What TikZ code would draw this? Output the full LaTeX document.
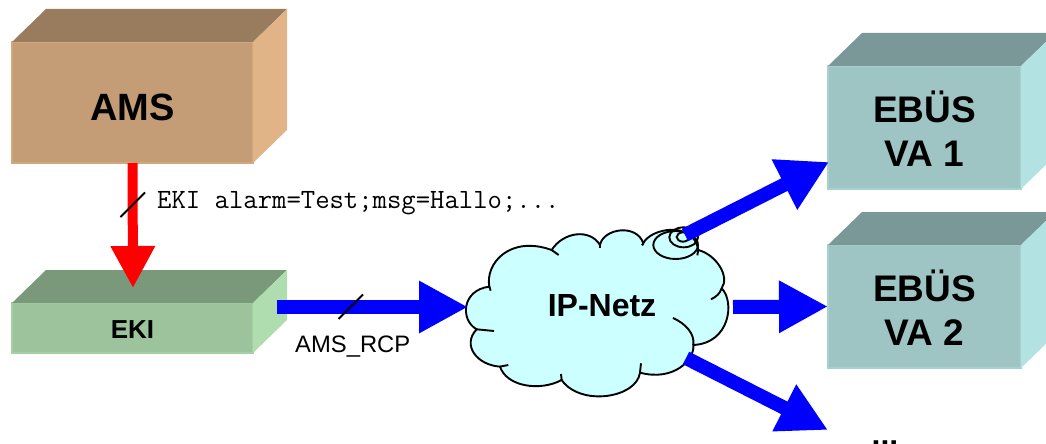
\documentclass[tikz,border=0pt]{standalone}
\usepackage{fontspec}
\setmainfont{Liberation Sans}
\usetikzlibrary{arrows.meta}
\definecolor{amsfront}{HTML}{C49C75}
\definecolor{amstop}{HTML}{997B5D}
\definecolor{amsside}{HTML}{E0B487}
\definecolor{ekifront}{HTML}{9CC39C}
\definecolor{ekitop}{HTML}{7A987A}
\definecolor{ekiside}{HTML}{B0DDB0}
\definecolor{vafront}{HTML}{9EC4C4}
\definecolor{vatop}{HTML}{7A9898}
\definecolor{vaside}{HTML}{B3E2E2}
\definecolor{netzfill}{HTML}{CCFFFF}
\tikzset{
	kiste/.style={inner sep=0pt,outer sep=0pt,line width=1.5pt},
	kistentext/.style={align=center},
	rotpfeil/.style={red,line width=10pt,-{Triangle[length=42pt,width=42pt]}},
	blaupfeil/.style={blue,line width=14pt,-{Triangle[length=49pt,width=49pt]}},
	netzlinie/.style={black,line width=1.9pt},
	strich/.style={black,line width=1.8pt},
}
\begin{document}
\begin{tikzpicture}[x=1pt,y=-1pt]
		\clip (0,0) rectangle (1046,444);
		\foreach \n/\x/\y/\w/\h/\f/\d/\s/\l in {ams/132.5/102.5/241/121/ams/4.5/38/AMS,eki/132.5/328/241/50/eki/1.5/26/EKI,vaa/924.5/127.5/193/123/va/1.5/37/EBÜS\\VA 1,vab/924.5/306.5/193/123/va/1.5/37/EBÜS\\VA 2}
		{
			\node[kiste,draw=\f side!45!\f front,fill=\f front,minimum width=\w pt,minimum height=\h pt] (\n) at (\x,\y) {};
			\fill[\f top] (\n.north west) -- ++(34,-33) -- ++(\w,0) -- (\n.north east) -- cycle;
			\fill[\f side] (\n.north east) -- ++(34,-33) -- ++(0,\h) -- (\n.south east) -- cycle;
			\node[kistentext,font=\fontsize{\s}{44}\selectfont\bfseries] (\n text) at ([yshift=-\d pt]\n.center) {\l};
		}
		% cloud, in the units of the zoomed outline
		\begin{scope}[shift={(440,190)},x=.3333pt,y=-.3333pt]
			\draw[netzlinie,fill=netzfill] (148,290) .. controls (135,220) and (210,135) .. (335,180)
			.. controls (370,125) and (450,115) .. (480,165)
			.. controls (490,115) and (590,100) .. (610,160)
			.. controls (630,115) and (760,90) .. (775,180)
			.. controls (830,195) and (870,260) .. (845,295)
			.. controls (885,335) and (870,460) .. (760,465)
			.. controls (765,510) and (700,575) .. (600,548)
			.. controls (590,625) and (420,650) .. (365,570)
			.. controls (300,605) and (200,590) .. (180,530)
			.. controls (110,525) and (65,465) .. (110,418)
			.. controls (60,390) and (65,300) .. (148,290) -- cycle;
			\foreach \ax/\ay/\bx/\by in {335/180/356/195,480/165/480/173,610/160/606/166,775/180/772/196,600/548/603/520,365/570/363/552,180/530/205/525,110/418/162/423,148/290/152/302}
			\draw[netzlinie] (\ax,\ay) -- (\bx,\by);
			\draw[netzlinie] (845,295) .. controls (840,310) and (830,320) .. (813,328);
			\draw[netzlinie] (760,465) .. controls (765,430) and (735,400) .. (699,384);
			\draw[netzlinie] (707,165) ellipse (67 and 42);
			\draw[netzlinie] (731,142) ellipse (43 and 30);
			\draw[netzlinie] (729,141) ellipse (19 and 14);
		\end{scope}
		\node[font=\fontsize{32}{38}\selectfont\bfseries] (netz) at (602,306) {IP-Netz};
		\coordinate (ekiziel) at (133,288);
		\coordinate (ekiaus) at (277,307);
		\coordinate (netzein) at (468,307);
		\coordinate (netzauso) at (685,235);
		\coordinate (netzausm) at (733,307);
		\coordinate (netzausu) at (686,358);
		\coordinate (vaaziel) at (829,162);
		\coordinate (weiter) at (828,430);
		\draw[rotpfeil] (ams.south) -- (ekiziel);
		\draw[blaupfeil] (ekiaus) -- (netzein);
		\draw[blaupfeil] (netzausm) -- (vab.west);
		\draw[blaupfeil,-{Triangle[length=50pt,width=53pt]}] (netzauso) -- (vaaziel);
		\draw[blaupfeil] (netzausu) -- (weiter);
		\draw[strich] (120.5,217) -- ++(24.5,-24.5);
		\draw[strich] (338.5,319) -- ++(24.5,-24.5);
		\node[anchor=base west,inner sep=0pt,font=\fontsize{27.9}{30}\selectfont\ttfamily] (befehl) at (157,208) {EKI alarm=Test;msg=Hallo;...};
		\node[anchor=base west,inner sep=0pt,font=\fontsize{23.8}{28}\selectfont] (rcp) at (295,352) {AMS\_RCP};
		\node[anchor=base,inner sep=0pt,font=\fontsize{32}{38}\selectfont\bfseries] (punkte) at (885,445) {...};
	\end{tikzpicture}
\end{document}
